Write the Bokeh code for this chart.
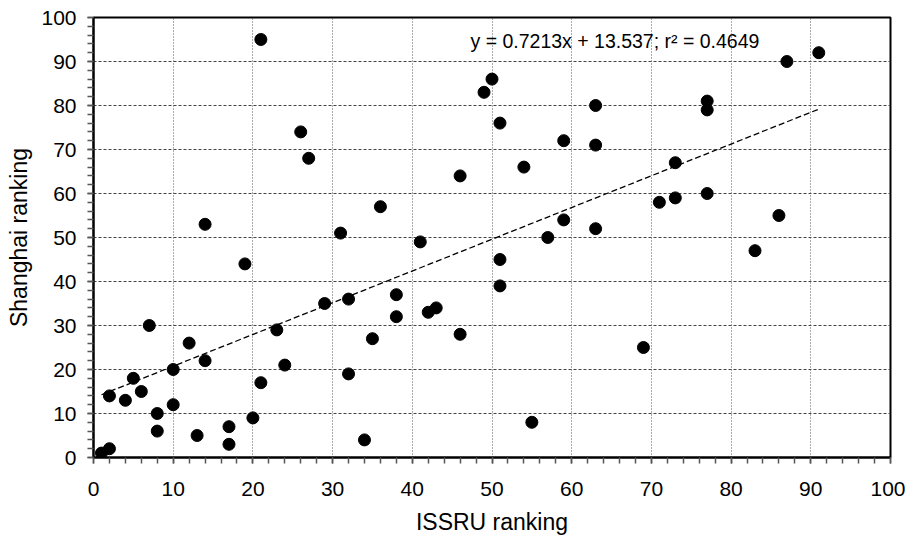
from bokeh.plotting import figure
from bokeh.models import Range1d, SingleIntervalTicker, Label
from bokeh.embed import file_html
from bokeh.resources import INLINE
import numpy as np

# ---- data ----
issru = [21, 26, 27, 14, 31,
         50, 49, 51, 63, 59, 63, 54, 46, 36, 59, 63, 57, 41,
         87, 91, 77, 77, 73, 71, 73, 77, 86,
         19, 29, 32, 7, 23, 12, 14, 24, 10, 32, 5, 21, 6, 2, 4, 10, 8, 20, 8, 17, 13, 17, 2, 1,
         51, 51, 38, 38, 42, 43, 35, 46, 34, 55, 69, 83]
shanghai = [95, 74, 68, 53, 51,
            86, 83, 76, 80, 72, 71, 66, 64, 57, 54, 52, 50, 49,
            90, 92, 81, 79, 67, 58, 59, 60, 55,
            44, 35, 36, 30, 29, 26, 22, 21, 20, 19, 18, 17, 15, 14, 13, 12, 10, 9, 6, 7, 5, 3, 2, 1,
            45, 39, 37, 32, 33, 34, 27, 28, 4, 8, 25, 47]
slope = 0.7213
intercept = 13.537
r_squared = 0.4649
x_title = "ISSRU ranking"
y_title = "Shanghai ranking"

FONT = "Liberation Sans"

p = figure(width=905, height=542, output_backend="svg", toolbar_location=None,
           title=None,
           x_range=Range1d(0, 100), y_range=Range1d(0, 100),
           min_border_left=93, min_border_right=15,
           min_border_top=17, min_border_bottom=85)
p.background_fill_color = "white"
p.border_fill_color = "white"
p.outline_line_color = "black"
p.outline_line_width = 2

for ax in (p.xaxis[0], p.yaxis[0]):
    ax.ticker = SingleIntervalTicker(interval=10, num_minor_ticks=5)
    ax.axis_line_color = "black"
    ax.axis_line_width = 2
    ax.major_tick_out = 6
    ax.major_tick_in = 0
    ax.minor_tick_out = 6
    ax.minor_tick_in = 0
    ax.major_tick_line_color = "#555555"
    ax.minor_tick_line_color = "#555555"
    ax.major_tick_line_width = 1.5
    ax.minor_tick_line_width = 1.5
    ax.major_label_text_font = FONT
    ax.major_label_text_font_size = "21px"
    ax.major_label_text_color = "black"
    ax.axis_label_text_font = FONT
    ax.axis_label_text_font_size = "23px"
    ax.axis_label_text_font_style = "normal"
    ax.axis_label_text_color = "black"

p.xaxis.axis_label = x_title
p.yaxis.axis_label = y_title
p.xaxis.major_label_standoff = 18
p.xaxis.axis_label_standoff = 10
p.yaxis.major_label_standoff = 11
p.yaxis.axis_label_standoff = 6

p.xgrid.ticker = SingleIntervalTicker(interval=10)
p.ygrid.ticker = SingleIntervalTicker(interval=10)
p.xgrid.grid_line_color = "#555555"
p.xgrid.grid_line_dash = "1 2"
p.xgrid.grid_line_width = 1
p.ygrid.grid_line_color = "#444444"
p.ygrid.grid_line_dash = "3 2"
p.ygrid.grid_line_width = 1

# regression line over the data's x extent
xs = np.array([min(issru), max(issru)], dtype=float)
ys = slope * xs + intercept
p.line(xs, ys, line_color="black", line_dash="6 3", line_width=1.3)

p.scatter(issru, shanghai, size=12, marker="circle", fill_color="black", line_color="black")

eq = Label(x=47.3, y=94.6, x_units="data", y_units="data",
           text=f"y = {slope}x + {intercept}; r\u00b2 = {r_squared}",
           text_font=FONT, text_font_size="19.5px", text_color="black",
           text_align="left", text_baseline="alphabetic")
p.add_layout(eq)

open("out.html", "w").write(file_html(p, INLINE))
